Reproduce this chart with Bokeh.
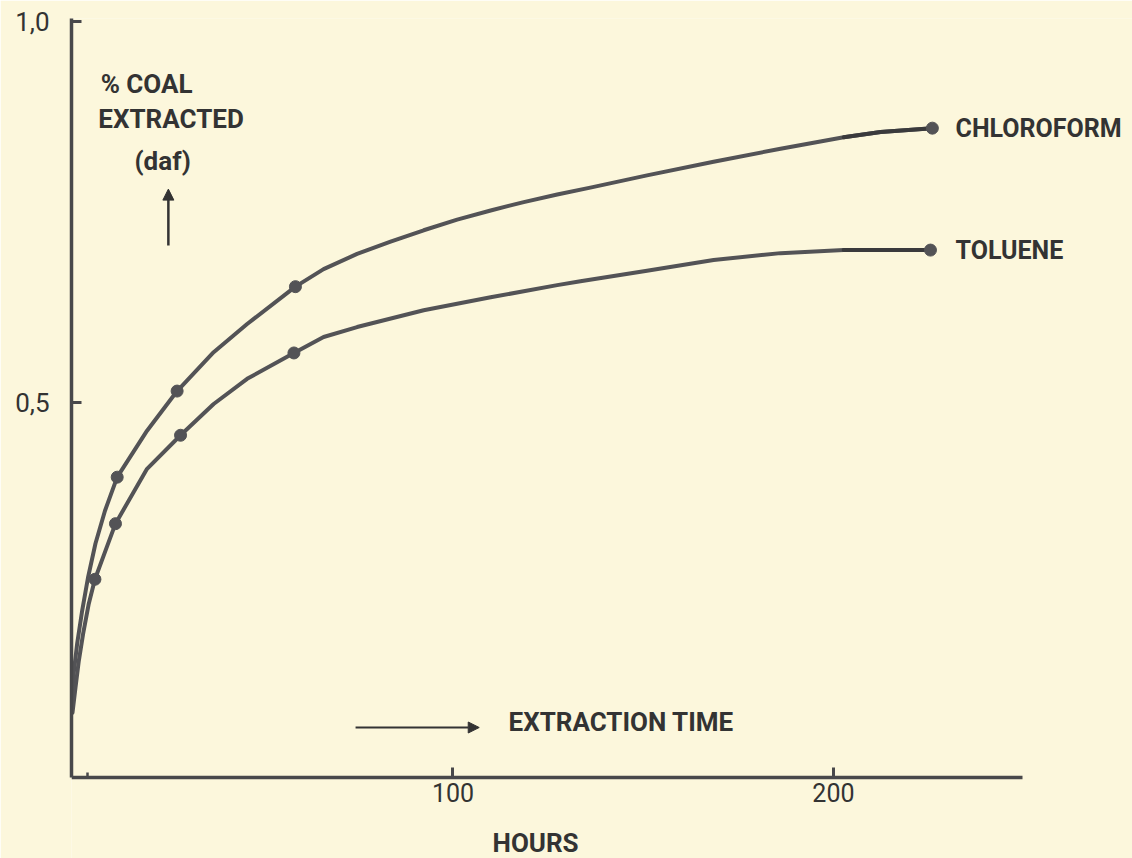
from bokeh.plotting import figure
from bokeh.models import Range1d, FixedTicker, Label, Arrow, NormalHead
from bokeh.embed import file_html
from bokeh.resources import INLINE

# ---- data ----
hours_chloroform_pts = [11.75, 27.5, 58.6, 226.0]
chloroform_pts = [0.402, 0.515, 0.652, 0.860]
hours_toluene_pts = [5.9, 11.3, 28.4, 58.2, 225.5]
toluene_pts = [0.268, 0.341, 0.457, 0.565, 0.700]

# hand-drawn smooth curves
chloroform_curve_h = [0, 0.18, 1.24, 2.55, 4.07, 6.04, 8.54, 11.75, 19.6, 27.5, 37.1, 45.9,
                      58.6, 66.0, 74.8, 83.6, 92.3, 101.1, 109.9, 118.6, 127.4, 136.1,
                      151.0, 168.5, 186.1, 202.7, 212.4, 226.0]
chloroform_curve_v = [0.10, 0.139, 0.184, 0.227, 0.270, 0.315, 0.358, 0.402, 0.463, 0.515,
                      0.566, 0.603, 0.652, 0.675, 0.695, 0.711, 0.726, 0.740, 0.752, 0.763,
                      0.773, 0.782, 0.798, 0.816, 0.833, 0.848, 0.855, 0.860]
toluene_curve_h = [0, 0.79, 1.66, 2.81, 4.28, 5.9, 8.7, 11.3, 19.6, 28.4, 37.1, 45.9,
                   58.2, 66.0, 74.8, 92.3, 109.9, 127.4, 133.5, 151.0, 168.5, 186.1, 202.7,
                   212.4, 225.5]
toluene_curve_v = [0.093, 0.126, 0.161, 0.197, 0.236, 0.268, 0.306, 0.341, 0.413,
                   0.457, 0.498, 0.531, 0.565, 0.586, 0.599, 0.621, 0.638, 0.654, 0.659,
                   0.673, 0.687, 0.696, 0.700, 0.700, 0.700]

x_ticks = [100, 200]
x_minor_ticks = [4]
y_ticks = [0.5, 1.0]
y_tick_labels = {0.5: "0,5", 1.0: "1,0"}
series_names = ["CHLOROFORM", "TOLUENE"]

X0, X1 = -0.26, 249.7        # extent of the drawn x axis (hours)
Y0, Y1 = 0.0079, 1.0039      # extent of the drawn y axis
REINKED_FROM = 202           # hours from which the pen stroke was re-inked (darker)

BG = "#fcf7dc"
INK = "#535356"
INK_DARK = "#3a3a3c"
AXC = "#48484a"
TXT = "#333333"
FONT = "Roboto"

p = figure(width=1132, height=858, output_backend="svg", toolbar_location=None,
           x_range=Range1d(X0, 278.6), y_range=Range1d(-0.0984, Y1),
           min_border_left=71, min_border_right=0, min_border_top=18,
           min_border_bottom=0)
p.background_fill_color = BG
p.border_fill_color = BG
p.outline_line_color = None
p.grid.visible = False

# axes
for ax in (p.xaxis[0], p.yaxis[0]):
    ax.axis_line_color = AXC
    ax.axis_line_width = 3.5
    ax.major_tick_line_color = AXC
    ax.major_tick_line_width = 3
    ax.major_tick_in = 10
    ax.major_tick_out = 0
    ax.major_label_text_font = FONT
    ax.major_label_text_color = TXT

p.xaxis.fixed_location = Y0
p.xaxis.bounds = (X0, X1)
p.xaxis.ticker = FixedTicker(ticks=x_ticks, minor_ticks=x_minor_ticks)
p.xaxis.minor_tick_in = 5
p.xaxis.minor_tick_out = 0
p.xaxis.minor_tick_line_color = AXC
p.xaxis.minor_tick_line_width = 2.5
p.xaxis.major_label_standoff = 6
p.xaxis.major_label_text_font_size = "25px"

p.yaxis.bounds = (Y0, Y1)
p.yaxis.ticker = FixedTicker(ticks=y_ticks, minor_ticks=[])
p.yaxis.minor_tick_line_color = None
p.yaxis.major_label_overrides = y_tick_labels
p.yaxis.major_label_standoff = 22
p.yaxis.major_label_text_font_size = "26px"

# curves
for hh, vv in ((chloroform_curve_h, chloroform_curve_v), (toluene_curve_h, toluene_curve_v)):
    p.line(hh, vv, line_color=INK, line_width=4, line_join="round", line_cap="round")
    tail = [i for i, h in enumerate(hh) if h >= REINKED_FROM]
    p.line([hh[i] for i in tail], [vv[i] for i in tail], line_color=INK_DARK,
           line_width=4, line_join="round", line_cap="round")

p.scatter(hours_chloroform_pts, chloroform_pts, size=12, fill_color=INK, line_color=INK)
p.scatter(hours_toluene_pts, toluene_pts, size=12, fill_color=INK, line_color=INK)

def lab(txt, x, y, size="26px", align="left"):
    p.add_layout(Label(x=x, y=y, text=txt, text_font=FONT, text_font_size=size,
                       text_font_style="bold", text_color=TXT, text_align=align,
                       text_baseline="middle"))

# series labels
lab(series_names[0], 232.1, 0.8596, size="25px")
lab(series_names[1], 232.1, 0.6995, size="25px")

# y-axis title block
lab("% COAL", 7.4, 0.9186)
lab("EXTRACTED", 6.8, 0.8714)
lab("(daf)", 23.7, 0.8163, align="center")
p.add_layout(Arrow(x_start=25.2, y_start=0.706, x_end=25.2, y_end=0.780,
                   line_color=TXT, line_width=2.5,
                   end=NormalHead(size=11, fill_color=TXT, line_color=TXT)))

# x-axis title
lab("EXTRACTION  TIME", 114.6, 0.0801)
p.add_layout(Arrow(x_start=74.4, y_start=0.0735, x_end=106.9, y_end=0.0735,
                   line_color=TXT, line_width=2,
                   end=NormalHead(size=11, fill_color=TXT, line_color=TXT)))
lab("HOURS", 110.4, -0.0787)

html = file_html(p, INLINE)
html = html.replace("<body>", '<body style="background:%s">' % BG, 1)
open("out.html", "w").write(html)
